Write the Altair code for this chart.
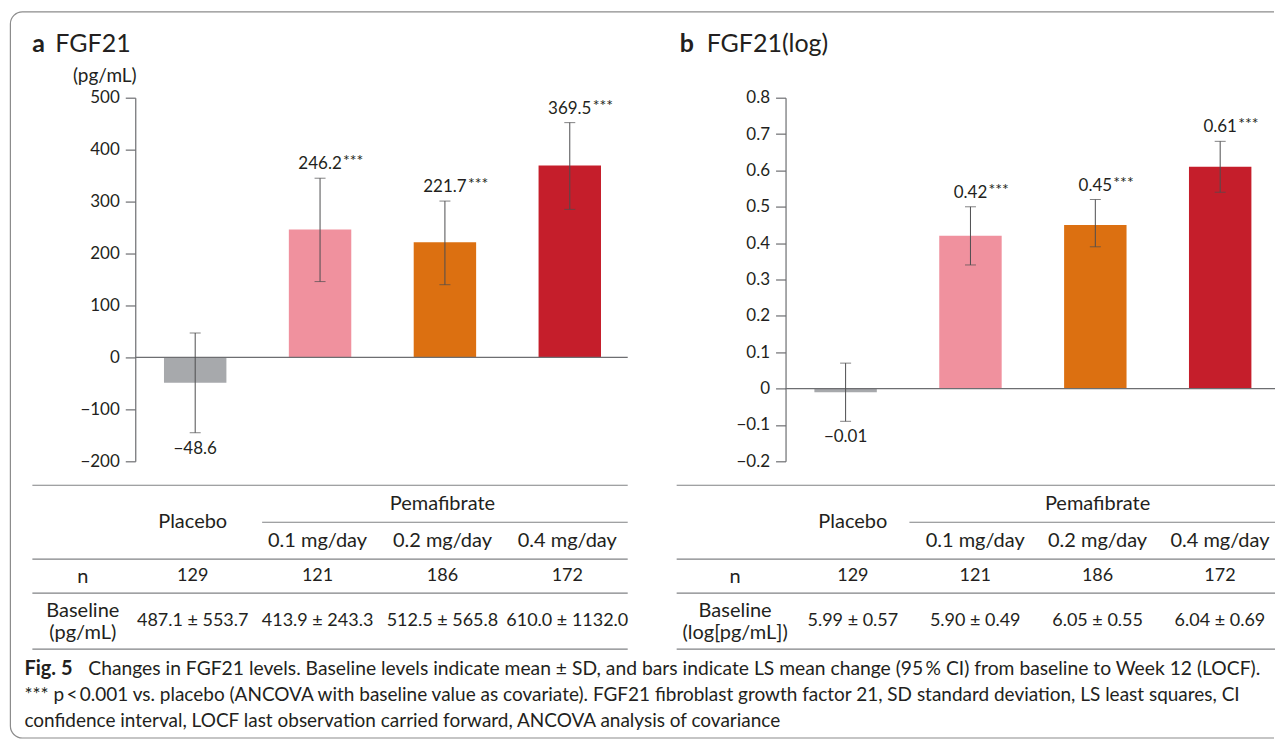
import altair as alt
import pandas as pd

FONT = "Lato"
TXT = "#231f20"
AX = "#6d6e71"
ERR = "#4d4d4f"
LINE = "#808285"
FS_WORD = 20   # table words
FS_NUM = 18    # table numbers
TFS = 17       # tick labels
HFS = 25       # panel headings
CFS1 = 19.3    # caption line 1
CFS2 = 19.0    # caption lines 2-3

groups = ["Placebo", "0.1 mg/day", "0.2 mg/day", "0.4 mg/day"]
bar_colors = ["#a7a9ac", "#f0919e", "#dc7011", "#c51e2b"]
stars = ["", "***", "***", "***"]

# panel a: LS mean change (pg/mL) with 95% CI
a_mean = [-48.6, 246.2, 221.7, 369.5]
a_lo = [-145, 146, 140, 285]
a_hi = [47, 345, 301, 452]
a_text = ["\u221248.6", "246.2", "221.7", "369.5"]
a_ticks = [-200, -100, 0, 100, 200, 300, 400, 500]

# panel b: LS mean change (log pg/mL) with 95% CI
b_mean = [-0.01, 0.42, 0.45, 0.61]
b_lo = [-0.09, 0.34, 0.39, 0.54]
b_hi = [0.07, 0.50, 0.52, 0.68]
b_text = ["\u22120.01", "0.42", "0.45", "0.61"]
b_ticks = [-0.2, -0.1, 0, 0.1, 0.2, 0.3, 0.4, 0.5, 0.6, 0.7, 0.8]

# tables
n_vals = ["129", "121", "186", "172"]
a_base = ["487.1 \u00b1 553.7", "413.9 \u00b1 243.3", "512.5 \u00b1 565.8", "610.0 \u00b1 1132.0"]
b_base = ["5.99 \u00b1 0.57", "5.90 \u00b1 0.49", "6.05 \u00b1 0.55", "6.04 \u00b1 0.69"]

caption_first = "Fig. 5"
caption_lines = [
    "Changes in FGF21 levels. Baseline levels indicate mean \u00b1 SD, and bars indicate LS mean change (95\u2009% CI) from baseline to Week 12 (LOCF).",
    "*** p\u2009<\u20090.001 vs. placebo (ANCOVA with baseline value as covariate). FGF21 fibroblast growth factor 21, SD standard deviation, LS least squares, CI",
    "confidence interval, LOCF last observation carried forward, ANCOVA analysis of covariance",
]

one = pd.DataFrame({"k": [0]})

scale_a = alt.Scale(domain=groups, paddingInner=0.5, paddingOuter=0.25, align=0.46)
scale_b = alt.Scale(domain=groups, paddingInner=0.5, paddingOuter=0.21, align=0.55)


def X(scale):
    return alt.X("group:N", sort=groups, scale=scale, axis=None)


def bar_panel(mean, lo, hi, txt, ydom, yticks, yfmt, ytitle, xscale, width,
              star_dx, zero_len, letter, name, letter_x, name_x, border):
    df = pd.DataFrame({"group": groups, "mean": mean, "lo": lo, "hi": hi,
                       "txt": txt, "sig": stars})
    yscale = alt.Scale(domain=ydom, nice=False, zero=False)
    axis = alt.Axis(values=yticks, tickCount=20, labelOverlap=False, format=yfmt,
                    title=ytitle, grid=False,
                    tickSize=10, labelPadding=6, labelFontSize=TFS,
                    titleFontSize=19, titleFontWeight="normal", titleAngle=0,
                    titleAlign="center", titleBaseline="middle", titleX=-31,
                    titleY=-22, domainColor=AX, tickColor=AX, domainWidth=1.2,
                    tickWidth=1.2)

    def Y(f):
        return alt.Y(f + ":Q", scale=yscale, axis=axis)

    xx = X(xscale)
    base = alt.Chart(df)
    layers = []
    if border:
        layers.append(
            alt.Chart(one).mark_rect(
                fill=None, stroke="#8c8c8c", strokeWidth=1.2,
                cornerRadiusTopLeft=12, cornerRadiusBottomLeft=12,
                strokeDash=[1253, 727, 4000, 0]
            ).encode(x=alt.value(-125), x2=alt.value(1140),
                     y=alt.value(-86), y2=alt.value(641))
        )
    layers.append(
        alt.Chart(pd.DataFrame({"t": [letter]})).mark_text(
            align="left", baseline="alphabetic", fontSize=HFS, fontWeight="bold"
        ).encode(x=alt.value(letter_x), y=alt.value(-46), text="t:N")
    )
    layers.append(
        alt.Chart(pd.DataFrame({"t": [name]})).mark_text(
            align="left", baseline="alphabetic", fontSize=HFS
        ).encode(x=alt.value(name_x), y=alt.value(-46), text="t:N")
    )
    layers.append(
        base.mark_bar().encode(
            x=xx, y=Y("mean"), y2=alt.datum(0),
            color=alt.Color("group:N", scale=alt.Scale(domain=groups, range=bar_colors), legend=None),
        )
    )
    layers.append(
        alt.Chart(one).mark_rule(color=AX, strokeWidth=1.2).encode(
            x=alt.value(0), x2=alt.value(zero_len), y=alt.datum(0))
    )
    layers.append(base.mark_rule(color=ERR, strokeWidth=1).encode(x=xx, y=Y("lo"), y2="hi:Q"))
    layers.append(base.mark_tick(color=ERR, thickness=1, size=11).encode(x=xx, y=Y("lo")))
    layers.append(base.mark_tick(color=ERR, thickness=1, size=11).encode(x=xx, y=Y("hi")))
    pos = base.transform_filter("datum.mean > 0")
    neg = base.transform_filter("datum.mean <= 0")
    layers.append(pos.mark_text(baseline="bottom", dy=-5, fontSize=TFS).encode(x=xx, y=Y("hi"), text="txt:N"))
    layers.append(pos.mark_text(align="left", baseline="alphabetic", dx=star_dx, dy=-12, fontSize=16).encode(x=xx, y=Y("hi"), text="sig:N"))
    layers.append(neg.mark_text(baseline="top", dy=8, fontSize=TFS).encode(x=xx, y=Y("lo"), text="txt:N"))
    return alt.layer(*layers).properties(width=width, height=364)


def header_table(xscale, width, lx1, lx2, sx1):
    yscale = alt.Scale(domain=["top", "sub"], range=[24, 98], paddingInner=0, paddingOuter=0)
    xx = X(xscale)
    df = pd.DataFrame({"group": ["0.2 mg/day"] + groups[1:],
                       "row": ["top", "sub", "sub", "sub"],
                       "txt": ["Pemafibrate"] + groups[1:]})
    pl = pd.DataFrame({"group": ["Placebo"], "row": ["sub"], "txt": ["Placebo"]})
    t = alt.Chart(df).mark_text(fontSize=FS_WORD).encode(
        x=xx, y=alt.Y("row:N", scale=yscale, axis=None), text="txt:N")
    p = alt.Chart(pl).mark_text(fontSize=FS_WORD).encode(
        x=xx, y=alt.Y("row:N", scale=yscale, axis=None, bandPosition=0), text="txt:N")
    top = alt.Chart(pd.DataFrame({"row": ["top"]})).mark_rule(color=LINE, strokeWidth=1.2).encode(
        y=alt.Y("row:N", scale=yscale, axis=None, bandPosition=0),
        x=alt.value(lx1), x2=alt.value(lx2))
    sub = alt.Chart(pd.DataFrame({"row": ["sub"]})).mark_rule(color=LINE, strokeWidth=1.2).encode(
        y=alt.Y("row:N", scale=yscale, axis=None, bandPosition=0),
        x=alt.value(sx1), x2=alt.value(lx2))
    return alt.layer(top, sub, t, p).properties(width=width, height=98)


def row_table(vals, label, height, labpad, laboff, xscale, width, lx1, lx2, bottom):
    xx = X(xscale)
    df = pd.DataFrame({"group": groups, "txt": vals, "label": [label] * 4})
    axis = alt.Axis(title=None, domain=False, ticks=False, tickSize=0,
                    labelAlign="center", labelBaseline="middle", labelPadding=labpad,
                    labelOffset=laboff,
                    labelFontSize=FS_WORD, labelColor=TXT, labelLimit=300,
                    labelExpr="split(datum.label, '|')", labelLineHeight=22)
    yy = alt.Y("label:N", axis=axis, scale=alt.Scale(paddingInner=0, paddingOuter=0))
    t = alt.Chart(df).mark_text(fontSize=FS_NUM).encode(x=xx, y=yy, text="txt:N")
    layers = [
        alt.Chart(one).mark_rule(color=LINE, strokeWidth=1.2).encode(
            x=alt.value(lx1), x2=alt.value(lx2), y=alt.value(0)),
        t,
    ]
    if bottom:
        layers.append(alt.Chart(one).mark_rule(color=LINE, strokeWidth=1.2).encode(
            x=alt.value(lx1), x2=alt.value(lx2), y=alt.value(height)))
    return alt.layer(*layers).properties(width=width, height=height)


def caption_chart():
    yscale = alt.Scale(domain=["l1", "l2", "l3"], range=[7, 85], paddingInner=0, paddingOuter=0)
    yy = alt.Y("line:N", scale=yscale, axis=None)
    fig = alt.Chart(pd.DataFrame({"line": ["l1"], "txt": [caption_first]})).mark_text(
        align="left", fontSize=20, fontWeight="bold").encode(x=alt.value(-111), y=yy, text="txt:N")
    l1 = alt.Chart(pd.DataFrame({"line": ["l1"], "txt": caption_lines[:1]})).mark_text(
        align="left", fontSize=CFS1).encode(x=alt.value(-47), y=yy, text="txt:N")
    l23 = alt.Chart(pd.DataFrame({"line": ["l2", "l3"], "txt": caption_lines[1:]})).mark_text(
        align="left", fontSize=CFS2).encode(x=alt.value(-111), y=yy, text="txt:N")
    return alt.layer(fig, l1, l23).properties(width=500, height=85)


barsA = bar_panel(a_mean, a_lo, a_hi, a_text, [-200, 500], a_ticks, "d", "(pg/mL)",
                  scale_a, 500, 23, 493, "a", "FGF21", -103, -80, True)
barsB = bar_panel(b_mean, b_lo, b_hi, b_text, [-0.2, 0.8], b_ticks, ".1~f", None,
                  scale_b, 490, 18, 490, "b", "FGF21(log)", -106, -79, False)

headA = header_table(scale_a, 500, -103, 493, 127)
headB = header_table(scale_b, 490, -109, 490, 124)
nA = row_table(n_vals, "n", 34, 53, 0, scale_a, 500, -103, 493, False)
nB = row_table(n_vals, "n", 34, 51, 0, scale_b, 490, -109, 490, False)
baseA = row_table(a_base, "Baseline|(pg/mL)", 56, 53, -11, scale_a, 500, -103, 493, True)
baseB = row_table(b_base, "Baseline|(log[pg/mL])", 56, 51, -11, scale_b, 490, -109, 490, True)
cap = caption_chart()

chart = alt.concat(
    barsA, barsB, headA, headB, nA, nB, baseA, baseB, cap,
    columns=2, spacing={"row": 0, "column": 151}, bounds="flush",
).properties(
    padding={"left": 1.4, "top": 2.4, "right": 0, "bottom": 0},
    background="white",
).configure(font=FONT).configure_view(stroke=None).configure_text(
    color=TXT, font=FONT
).configure_axis(labelFont=FONT, titleFont=FONT, labelColor=TXT, titleColor=TXT)

chart.save("out.html", embed_options={"renderer": "svg", "actions": False})
